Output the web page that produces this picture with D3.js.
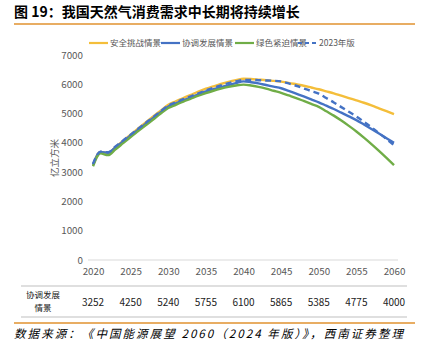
<!DOCTYPE html>
<html><head><meta charset="utf-8">
<script src="https://cdn.jsdelivr.net/npm/d3@7"></script>
<style>body{margin:0;background:#fff}svg{display:block}</style>
</head><body>
<div id="chart"></div>
<script>
const years = d3.range(2020, 2061);
const seriesNames = ["安全挑战情景", "协调发展情景", "绿色紧迫情景", "2023年版"];
const safeVals = [3252,3690,3660,3860,4070,4280,4490,4700,4900,5100,5300,5420,5530,5640,5750,5850,5930,6010,6080,6140,6190,6180,6160,6140,6115,6090,6050,6000,5950,5890,5830,5760,5690,5610,5530,5450,5370,5280,5180,5080,4980];
const coordVals = [3252,3690,3660,3850,4050,4250,4450,4650,4850,5050,5240,5350,5455,5555,5655,5755,5830,5900,5970,6040,6100,6070,6030,5975,5920,5865,5775,5680,5585,5485,5385,5270,5155,5030,4905,4775,4625,4475,4320,4160,4000];
const greenVals = [3200,3640,3580,3780,3990,4200,4400,4600,4800,5000,5190,5300,5410,5510,5610,5700,5780,5850,5910,5960,5990,5960,5910,5850,5780,5710,5620,5530,5430,5330,5230,5080,4930,4760,4580,4390,4180,3960,3730,3490,3240];
const v2023Vals = [3280,3700,3680,3880,4080,4280,4480,4680,4880,5080,5270,5380,5490,5590,5690,5790,5880,5960,6040,6100,6150,6150,6140,6130,6120,6100,6030,5950,5860,5770,5680,5530,5380,5220,5060,4900,4720,4530,4330,4130,3920];
const xTickYears = [2020,2025,2030,2035,2040,2045,2050,2055,2060];
const yTicks = [0,1000,2000,3000,4000,5000,6000,7000];
const tableLabel = ["协调发展", "情景"];
const tableVals = [3252,4250,5240,5755,6100,5865,5385,4775,4000];
const title = "图 19：我国天然气消费需求中长期将持续增长";
const source = "数据来源：《中国能源展望 2060（2024 年版）》，西南证券整理";
const yTitle = "亿立方米";

const colors = ["#F4BE3A", "#4472C4", "#70AD47", "#4472C4"];
const dashes = [null, null, null, "6,4"];
const allVals = [safeVals, coordVals, greenVals, v2023Vals];

const W = 433, H = 357;
const svg = d3.select("#chart").append("svg").attr("width", W).attr("height", H);
const cjk = "'Noto Sans CJK SC','Noto Sans',sans-serif";

// title
svg.append("text").attr("x", 14).attr("y", 17).attr("font-family", cjk)
  .attr("font-weight", "bold").attr("font-size", 14).attr("fill", "#000").text(title);
svg.append("line").attr("x1", 14).attr("x2", 415).attr("y1", 24).attr("y2", 24)
  .attr("stroke", "#E0922F").attr("stroke-width", 1.5);

const x = d3.scaleLinear().domain([2020, 2060]).range([93, 394]);
const y = d3.scaleLinear().domain([0, 7000]).range([260, 55]);

// y axis labels
const yAxis = d3.axisLeft(y).tickValues(yTicks).tickSize(0).tickPadding(0).tickFormat(d3.format("d"));
const yg = svg.append("g").attr("transform", "translate(83,0)").call(yAxis);
yg.select(".domain").remove();
yg.selectAll("text").attr("font-family", cjk).attr("font-size", 9.8).attr("fill", "#595959");

// x axis
const xAxis = d3.axisBottom(x).tickValues(xTickYears).tickSize(0).tickPadding(8).tickFormat(d3.format("d"));
const xg = svg.append("g").attr("transform", "translate(0,260)").call(xAxis);
xg.select(".domain").remove();
xg.selectAll("text").attr("font-family", cjk).attr("font-size", 9.8).attr("fill", "#595959");
svg.append("line").attr("x1", x(2020) - 5).attr("x2", x(2060) + 4).attr("y1", y(0)).attr("y2", y(0))
  .attr("stroke", "#D9D9D9").attr("stroke-width", 1);

// y title
svg.append("text").attr("transform", "translate(58,158) rotate(-90)").attr("text-anchor", "middle")
  .attr("font-family", cjk).attr("font-size", 9.5).attr("fill", "#595959").text(yTitle);

// lines
const line = d3.line().x((d, i) => x(years[i])).y(d => y(d)).curve(d3.curveMonotoneX);
allVals.forEach((vals, k) => {
  svg.append("path").datum(vals).attr("d", line).attr("fill", "none")
    .attr("stroke", colors[k]).attr("stroke-width", 2.4)
    .attr("stroke-dasharray", dashes[k]);
});

// legend
const legendX = [89, 161, 235, 298];
seriesNames.forEach((n, k) => {
  const g = svg.append("g").attr("transform", `translate(${legendX[k]},43)`);
  g.append("line").attr("x1", 0).attr("x2", 19).attr("y1", 0).attr("y2", 0)
    .attr("stroke", colors[k]).attr("stroke-width", 2.2).attr("stroke-dasharray", k === 3 ? "4,3" : null);
  g.append("text").attr("x", 21).attr("y", 3).attr("font-family", cjk).attr("font-size", 8.5)
    .attr("fill", "#595959").text(n);
});

// table
svg.append("line").attr("x1", 21).attr("x2", 407).attr("y1", 286).attr("y2", 286).attr("stroke", "#BFBFBF");
svg.append("line").attr("x1", 21).attr("x2", 407).attr("y1", 317).attr("y2", 317).attr("stroke", "#BFBFBF");
tableLabel.forEach((t, i) => {
  svg.append("text").attr("x", 43).attr("y", 298 + i * 12.5).attr("text-anchor", "middle")
    .attr("font-family", cjk).attr("font-size", 8.5).attr("fill", "#222").text(t);
});
svg.selectAll(".tv").data(tableVals).enter().append("text")
  .attr("x", (d, i) => x(xTickYears[i])).attr("y", 305.5).attr("text-anchor", "middle")
  .attr("font-family", cjk).attr("font-size", 10).attr("fill", "#222").text(d => d);

svg.append("line").attr("x1", 14).attr("x2", 415).attr("y1", 323).attr("y2", 323)
  .attr("stroke", "#E0922F").attr("stroke-width", 1.5);

svg.append("text").attr("x", 14).attr("y", 338).attr("font-family", cjk)
  .attr("font-size", 11.5).attr("font-style", "italic").attr("fill", "#000")
  .attr("textLength", 389).attr("lengthAdjust", "spacing").text(source);
</script>
</body></html>
